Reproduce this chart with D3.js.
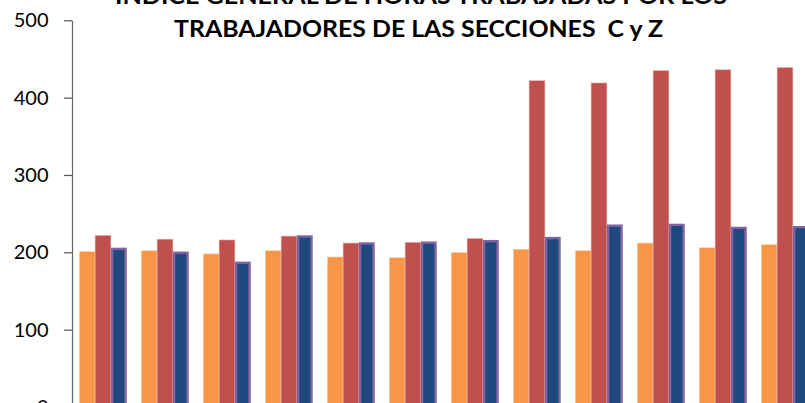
<!DOCTYPE html>
<html>
<head>
<meta charset="utf-8">
<script src="https://cdn.jsdelivr.net/npm/d3@7"></script>
<style>
  html, body { margin: 0; padding: 0; background: #fff; }
  svg { display: block; }
</style>
</head>
<body>
<svg id="chart" width="805" height="403"></svg>
<script>
// ---- Data ----
const categories = ["1", "2", "3", "4", "5", "6", "7", "8", "9", "10", "11", "12"];
const seriesNames = ["Serie 1", "Serie 2", "Serie 3"];
const serie1 = [201, 202, 198, 202, 194, 193, 200, 204, 202, 212, 206, 210];
const serie2 = [222, 217, 216, 221, 212, 213, 218, 422, 419, 435, 436, 439];
const serie3 = [206, 201, 188, 222, 213, 214, 216, 220, 236, 237, 233, 234];
const yTicks = [0, 100, 200, 300, 400, 500];
const titleLines = ["INDICE GENERAL DE HORAS TRABAJADAS POR LOS", "TRABAJADORES DE LAS SECCIONES  C y Z"];

const seriesValues = [serie1, serie2, serie3];
const colors = ["#f79646", "#c0504d", "#1f497d"];

const svg = d3.select("#chart");

const y = d3.scaleLinear().domain([0, 500]).range([407, 20.3]);
const x0 = d3.scaleBand().domain(categories).range([72, 72 + 12 * 62])
  .paddingInner(0.234).paddingOuter(0.117);
const x1 = d3.scaleBand().domain(d3.range(3)).range([0, x0.bandwidth()]);

const groups = svg.append("g").selectAll("g")
  .data(categories).join("g")
  .attr("transform", d => `translate(${x0(d)},0)`);

groups.selectAll("rect")
  .data((d, i) => seriesValues.map((s, k) => ({k, v: s[i]})))
  .join("rect")
  .attr("x", d => d.k === 2 ? x1(d.k) + 1.2 : x1(d.k))
  .attr("y", d => d.k === 2 ? y(d.v) + 1.2 : y(d.v))
  .attr("width", d => d.k === 2 ? x1.bandwidth() - 2.4 : x1.bandwidth())
  .attr("height", d => d.k === 2 ? y(0) - y(d.v) - 1.2 : y(0) - y(d.v))
  .attr("fill", d => colors[d.k])
  .attr("stroke", d => d.k === 2 ? "#8064a2" : (d.k === 1 ? "#e6b9b8" : "#fbd5b5"))
  .attr("stroke-width", d => d.k === 2 ? 2.4 : 0.6);

// Axis
const axis = d3.axisLeft(y).tickValues(yTicks).tickSize(8).tickSizeOuter(0).tickPadding(15.5);
const ax = svg.append("g").attr("transform", "translate(72,0)").call(axis);
ax.select(".domain").attr("stroke", "#666").attr("stroke-width", 1.2);
ax.selectAll(".tick line").attr("stroke", "#555").attr("stroke-width", 1.2);
ax.selectAll(".tick text")
  .attr("fill", "#000")
  .style("font-family", "Lato, 'Open Sans', sans-serif")
  .style("font-size", "20px");

// Title
const title = svg.append("g");
title.append("text")
  .attr("x", 421).attr("y", 3.5)
  .attr("text-anchor", "middle")
  .attr("textLength", 612).attr("lengthAdjust", "spacingAndGlyphs")
  .style("font-family", "Lato, 'Open Sans', sans-serif")
  .style("font-weight", "bold").style("font-size", "23px")
  .text(titleLines[0]);
title.append("text")
  .attr("x", 418.5).attr("y", 36.5)
  .attr("text-anchor", "middle")
  .attr("textLength", 489).attr("lengthAdjust", "spacingAndGlyphs")
  .style("font-family", "Lato, 'Open Sans', sans-serif")
  .style("font-weight", "bold").style("font-size", "23px")
  .style("white-space", "pre")
  .text(titleLines[1]);
</script>
</body>
</html>
